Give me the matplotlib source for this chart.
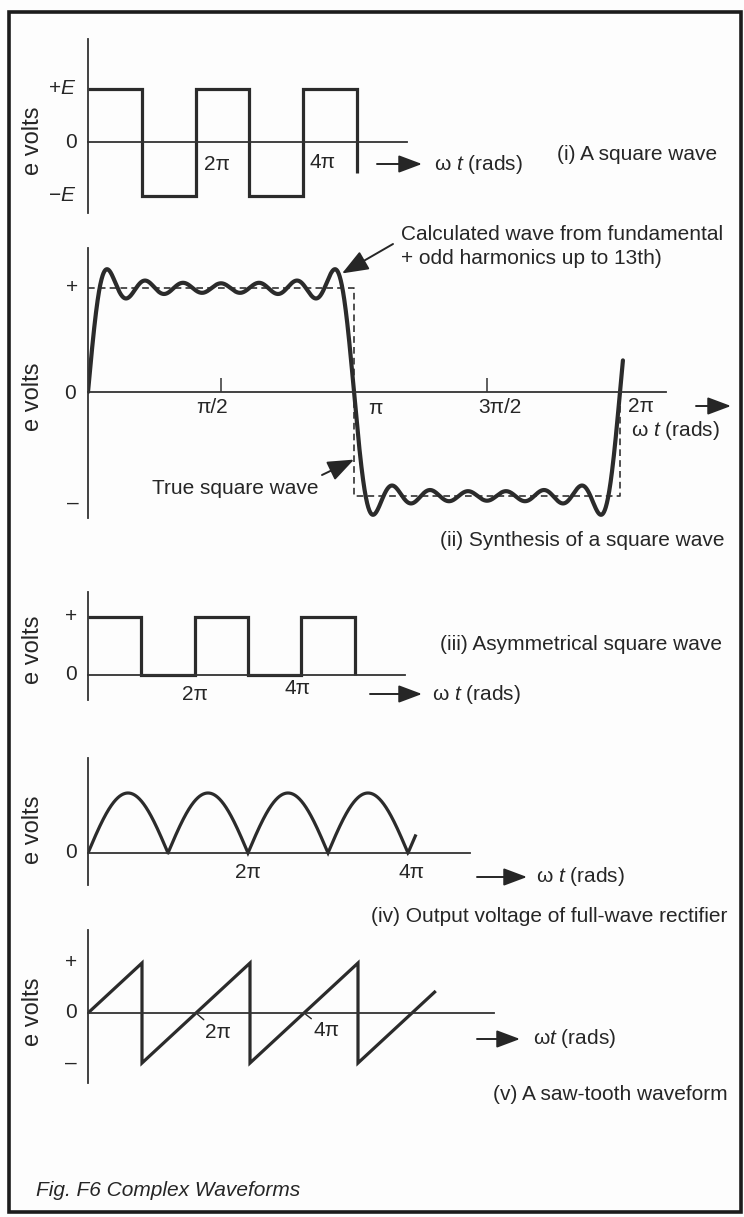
import numpy as np
import matplotlib
matplotlib.use("Agg")
import matplotlib.pyplot as plt
from matplotlib.patches import Rectangle

W, H, DPI = 744, 1217, 100
INK = "#262626"
FS = 15

plt.rcParams["font.family"] = ["Liberation Sans", "DejaVu Sans"]
plt.rcParams["mathtext.fontset"] = "custom"
plt.rcParams["mathtext.it"] = "Liberation Sans:italic"
plt.rcParams["mathtext.rm"] = "Liberation Sans"
plt.rcParams["text.color"] = INK

PI = np.pi

# ---- (i) square wave: time in multiples of pi, level in units of E
square_t = [0, 1, 1, 2, 2, 3, 3, 4, 4, 5, 5]
square_v = [1, 1, -1, -1, 1, 1, -1, -1, 1, 1, -0.58]
square_xticks = [2, 4]
square_xlabels = ["2π", "4π"]
square_yticks = [1, 0, -1]
square_ylabels = ["+$E$", "0", "−$E$"]

# ---- (ii) synthesis: odd harmonics summed, plus the ideal square wave
harmonics = [1, 3, 5, 7, 9, 11, 13]
synth_end = 2.011            # end of the computed trace, multiples of pi
true_sq_t = [0, 1, 1, 2, 2]
true_sq_v = [1, 1, -1, -1, 0]
synth_xticks = [0.5, 1.5]
synth_xlabels = ["π/2", "π", "3π/2", "2π"]
synth_xlabel_pos = [0.5, 1, 1.5, 2]
synth_yticks = [1, 0, -1]
synth_ylabels = ["+", "0", "–"]

# ---- (iii) asymmetrical square wave
asym_t = [0, 1, 1, 2, 2, 3, 3, 4, 4, 5, 5]
asym_v = [1, 1, 0, 0, 1, 1, 0, 0, 1, 1, 0]
asym_xticks = [2, 4]
asym_xlabels = ["2π", "4π"]
asym_yticks = [1, 0]
asym_ylabels = ["+", "0"]

# ---- (iv) full-wave rectifier output
rect_end = 4.1               # multiples of pi
rect_xticks = [2, 4]
rect_xlabels = ["2π", "4π"]

# ---- (v) saw-tooth
saw_t = [0, 1, 1, 3, 3, 5, 5, 6.44]
saw_v = [0, 1, -1, 1, -1, 1, -1, 0.44]
saw_xticks = [2, 4]
saw_xlabels = ["2π", "4π"]
saw_yticks = [1, 0, -1]
saw_ylabels = ["+", "0", "–"]

fig = plt.figure(figsize=(W / DPI, H / DPI), dpi=DPI)
fig.patch.set_facecolor("#fdfdfd")

# full-figure layer in pixel units for captions, arrows and the frame
ov = fig.add_axes([0, 0, 1, 1])
ov.set_xlim(0, W)
ov.set_ylim(H, 0)
ov.axis("off")
ov.add_patch(Rectangle((9, 12), 732, 1200, fill=False, lw=2.6, ec="#1c1c1c"))

HEAD = "-|>,head_length=0.8,head_width=0.3"


def panel(left, right, top, bottom, zero_px, unit_px, pi_px):
    """Axes whose left spine and zero line form the drawn axes."""
    ax = fig.add_axes([left / W, 1 - bottom / H, (right - left) / W, (bottom - top) / H])
    ax.set_facecolor("none")
    ax.set_xlim(0, (right - left) / pi_px)
    ax.set_ylim(-(bottom - zero_px) / unit_px, (zero_px - top) / unit_px)
    for s in ("top", "right"):
        ax.spines[s].set_visible(False)
    ax.spines["bottom"].set_position(("data", 0))
    for s in ("left", "bottom"):
        ax.spines[s].set_linewidth(1.3)
        ax.spines[s].set_color("#333333")
    ax.set_xticks([])
    ax.set_yticks([])
    return ax


def ylabels(ax, vals, labels, dx, dy=None):
    for i, (v, lab) in enumerate(zip(vals, labels)):
        oy = 0 if dy is None else dy[i]
        ax.annotate(lab, xy=(0, v), xytext=(dx[i], -oy), textcoords="offset pixels",
                    ha="center", va="center", fontsize=FS, annotation_clip=False)


def xlabels(ax, vals, labels, offs, leader=False):
    for v, lab, (ox, oy) in zip(vals, labels, offs):
        kw = {}
        if leader:
            kw["arrowprops"] = dict(arrowstyle="-", lw=1.0, color=INK,
                                    shrinkA=0, shrinkB=1.5)
        ax.annotate(lab, xy=(v, 0), xytext=(ox, -oy), textcoords="offset pixels",
                    ha="center", va="center", fontsize=FS, annotation_clip=False, **kw)


def evolts(yc):
    ov.text(33, yc, "e volts", rotation=90, ha="center", va="center", fontsize=FS + 2)


def arrow(tail, tip, tipcoords=None, head=HEAD):
    ov.annotate("", xy=tip, xycoords=tipcoords if tipcoords is not None else ov.transData,
                xytext=tail, textcoords=ov.transData,
                arrowprops=dict(arrowstyle=head, lw=1.4, color=INK, mutation_scale=18,
                                shrinkA=0, shrinkB=0))


def wt_arrow(x0, x1, y, tx, text="ω $t$ (rads)"):
    arrow((x0, y), (x1, y))
    ov.text(tx, y, text, ha="left", va="center", fontsize=FS)


WAVE = dict(color="#2b2b2b", lw=2.3, solid_joinstyle="miter", solid_capstyle="butt")

# ---------------- (i)
a1 = panel(88, 407, 39, 213, 142, 53.5, 53.8)
a1.plot(square_t, square_v, **WAVE)
ylabels(a1, square_yticks, square_ylabels, [-26, -17, -26])
xlabels(a1, square_xticks, square_xlabels, [(21, 22), (19, 21)])
evolts(141)
wt_arrow(377, 422, 164, 434)
ov.text(717, 154, "(i) A square wave", ha="right", va="center", fontsize=FS)

# ---------------- (ii)
a2 = panel(88, 666, 248, 518, 392, 104, 266)
t = np.linspace(0, synth_end * PI, 3000)
synth = (4 / PI) * sum(np.sin(n * t) / n for n in harmonics)
a2.plot(true_sq_t, true_sq_v, color="#333333", lw=1.2, ls=(0, (4, 2.5)))
a2.plot(t / PI, synth, color="#2b2b2b", lw=3.0, solid_capstyle="round")
a2.set_xticks(synth_xticks)
a2.tick_params(axis="x", direction="in", length=10, width=1.1, color="#333333",
               labelbottom=False)
ylabels(a2, synth_yticks, synth_ylabels, [-16, -18, -15], [0, 2, 7])
xlabels(a2, synth_xlabel_pos, synth_xlabels, [(-9, 16), (21, 17), (13, 16), (21, 15)])
evolts(397)
arrow((393, 244), (3.0 / PI, 1.14), a2.transData, "-|>,head_length=0.9,head_width=0.35")
ov.text(401, 235, "Calculated wave from fundamental", ha="left", va="center", fontsize=FS)
ov.text(401, 258, "+ odd harmonics up to 13th)", ha="left", va="center", fontsize=FS)
arrow((322, 475), (1.0, -0.65), a2.transData, "-|>,head_length=0.9,head_width=0.35")
ov.text(152, 488, "True square wave", ha="left", va="center", fontsize=FS)
arrow((696, 406), (731, 406))
ov.text(631, 430, "ω $t$ (rads)", ha="left", va="center", fontsize=FS)
ov.text(724, 540, "(ii) Synthesis of a square wave", ha="right", va="center", fontsize=FS)

# ---------------- (iii)
a3 = panel(88, 405, 592, 700, 675, 58, 53.3)
a3.plot(asym_t, asym_v, **WAVE)
ylabels(a3, asym_yticks, asym_ylabels, [-17, -17])
xlabels(a3, asym_xticks, asym_xlabels, [(0, 19), (-4, 14)])
evolts(650)
wt_arrow(370, 422, 694, 432)
ov.text(722, 645, "(iii) Asymmetrical square wave", ha="right", va="center", fontsize=FS)

# ---------------- (iv)
a4 = panel(88, 470, 758, 885, 853, 60, 80)
tr = np.linspace(0, rect_end * PI, 2000)
a4.plot(tr / PI, np.abs(np.sin(tr)), **WAVE)
ylabels(a4, [0], ["0"], [-17])
xlabels(a4, rect_xticks, rect_xlabels, [(0, 19), (4, 19)])
evolts(830)
wt_arrow(477, 527, 877, 536)
ov.text(727, 916, "(iv) Output voltage of full-wave rectifier", ha="right", va="center",
        fontsize=FS)

# ---------------- (v)
a5 = panel(88, 494, 930, 1083, 1013, 50, 54)
a5.plot(saw_t, saw_v, **WAVE)
ylabels(a5, saw_yticks, saw_ylabels, [-17, -17, -17])
xlabels(a5, saw_xticks, saw_xlabels, [(22, 19), (23, 18)], leader=True)
evolts(1012)
wt_arrow(477, 520, 1039, 533, "ω$t$ (rads)")
ov.text(728, 1094, "(v) A saw-tooth waveform", ha="right", va="center", fontsize=FS)

ov.text(36, 1191, "Fig. F6 Complex Waveforms", ha="left", va="center", fontsize=FS,
        style="italic")

fig.savefig("out.png", dpi=DPI, facecolor=fig.get_facecolor())
